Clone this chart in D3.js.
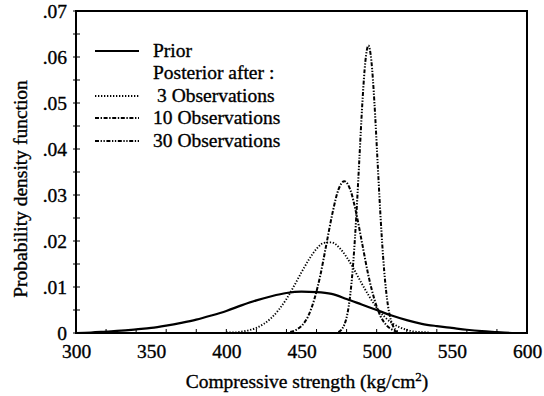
<!DOCTYPE html>
<html>
<head>
<meta charset="utf-8">
<script src="https://cdn.jsdelivr.net/npm/d3@7"></script>
<style>
  body { margin: 0; background: #fff; }
  text { font-family: "Liberation Serif", "Times New Roman", serif; fill: #000; stroke: #000; stroke-width: 0.35px; }
</style>
</head>
<body>
<div id="chart"></div>
<script>
// values
const xTicks = [300, 350, 400, 450, 500, 550, 600];
const yTicks = [0, 0.01, 0.02, 0.03, 0.04, 0.05, 0.06, 0.07];

const priorX = [300, 310, 320, 330, 340, 350, 360, 370, 380, 390, 400, 410, 420, 430, 440, 450,
                460, 470, 480, 490, 500, 510, 520, 530, 540, 550, 560, 570, 580, 590];
const priorY = [0.0000, 0.0001, 0.0003, 0.0005, 0.0008, 0.0011, 0.0016, 0.0022, 0.0029, 0.0038,
                0.0048, 0.0060, 0.0071, 0.0080, 0.0087, 0.0090, 0.0089, 0.0085, 0.0074, 0.0062,
                0.0050, 0.0038, 0.0028, 0.0020, 0.0015, 0.0011, 0.0007, 0.0004, 0.0002, 0.0000];

const obs3X = [400, 405, 410, 415, 420, 425, 430, 435, 440, 445, 450, 455, 460, 465, 470,
               475, 480, 485, 490, 495, 500, 505, 510, 515, 520, 525, 530, 535];
const obs3Y = [0.0001, 0.0001, 0.0003, 0.0006, 0.0011, 0.0020, 0.0033, 0.0051, 0.0074, 0.0102,
               0.0132, 0.0160, 0.0183, 0.0196, 0.0197, 0.0186, 0.0165, 0.0138, 0.0108, 0.0080,
               0.0055, 0.0036, 0.0022, 0.0013, 0.0007, 0.0003, 0.0002, 0.0001];

const obs10X = [442.5, 446.5, 450.5, 454.5, 458.5, 462.5, 466.5, 470.5, 474.5, 478.5,
                482.5, 486.5, 490.5, 494.5, 498.5, 502.5, 506.5, 510.5, 514.5];
const obs10Y = [0.0002, 0.0007, 0.0017, 0.0037, 0.0073, 0.0125, 0.0192, 0.0259, 0.0311, 0.0330,
                0.0311, 0.0259, 0.0192, 0.0125, 0.0073, 0.0037, 0.0017, 0.0007, 0.0002];

const obs30X = [474.5, 476.5, 478.5, 480.5, 482.5, 484.5, 486.5, 488.5, 490.5, 492.5, 494.5,
                496.5, 498.5, 500.5, 502.5, 504.5, 506.5, 508.5, 510.5, 512.5, 514.5];
const obs30Y = [0.0002, 0.0007, 0.0018, 0.0041, 0.0085, 0.0156, 0.0257, 0.0379, 0.0501, 0.0591, 0.0625,
                0.0591, 0.0501, 0.0379, 0.0257, 0.0156, 0.0085, 0.0041, 0.0018, 0.0007, 0.0002];

const seriesNames = ["Prior", "3 Observations", "10 Observations", "30 Observations"];

const config = {width: 544, height: 396, left: 76, right: 17, top: 11, bottom: 63};
const innerW = config.width - config.left - config.right;
const innerH = config.height - config.top - config.bottom;
const fontSize = "19.5px";

const svg = d3.select("#chart")
    .append("svg")
    .attr("width", config.width)
    .attr("height", config.height);

const g = svg.append("g")
    .attr("transform", `translate(${config.left},${config.top})`);

const x = d3.scaleLinear().domain([300, 600]).range([0, innerW]);
const y = d3.scaleLinear().domain([0, 0.07]).range([innerH, 0]);

// series table built from the arrays
const series = [
    {name: seriesNames[0], xs: priorX, ys: priorY, dash: null, w: 2.2},
    {name: seriesNames[1], xs: obs3X, ys: obs3Y, dash: "1.3,1.7", w: 1.9},
    {name: seriesNames[2], xs: obs10X, ys: obs10Y, dash: "4,1.6,1.4,1.6", w: 2},
    {name: seriesNames[3], xs: obs30X, ys: obs30Y, dash: "4,1.6,1.3,1.6,1.3,1.6", w: 2}
];

const line = d3.line()
    .x(d => x(d[0]))
    .y(d => y(d[1]))
    .curve(d3.curveMonotoneX);

g.selectAll(".curve")
    .data(series)
    .enter().append("path")
        .attr("class", "curve")
        .attr("fill", "none")
        .attr("stroke", "#000")
        .attr("stroke-width", d => d.w)
        .attr("stroke-dasharray", d => d.dash)
        .attr("d", d => line(d.xs.map((v, i) => [v, d.ys[i]])));

// frame
g.append("rect")
    .attr("width", innerW)
    .attr("height", innerH)
    .attr("fill", "none")
    .attr("stroke", "#000")
    .attr("stroke-width", 2);

// minor ticks
g.selectAll(".xminor")
    .data(x.ticks(12))
    .enter().append("line")
        .attr("x1", d => x(d)).attr("x2", d => x(d))
        .attr("y1", innerH).attr("y2", innerH - 4)
        .attr("stroke", "#000").attr("stroke-width", 1);

g.selectAll(".yminor")
    .data(y.ticks(14))
    .enter().append("line")
        .attr("x1", -3).attr("x2", 4)
        .attr("y1", d => y(d)).attr("y2", d => y(d))
        .attr("stroke", "#000").attr("stroke-width", 1);

// tick labels
const xAxis = g.append("g")
    .attr("transform", `translate(0,${innerH})`)
    .call(d3.axisBottom(x).tickValues(xTicks).tickSize(0).tickPadding(11).tickFormat(d3.format("d")));
xAxis.select(".domain").remove();
xAxis.selectAll("text").style("font-size", fontSize).style("font-family", "Liberation Serif");

const fmtY = d => d === 0 ? "0" : d3.format(".2f")(d).replace(/^0/, "");
const yAxis = g.append("g")
    .call(d3.axisLeft(y).tickValues(yTicks).tickSize(0).tickPadding(9).tickFormat(fmtY));
yAxis.select(".domain").remove();
yAxis.selectAll("text").style("font-size", fontSize).style("font-family", "Liberation Serif");

// axis titles
const xt = svg.append("text")
    .attr("x", 307)
    .attr("y", 388)
    .attr("text-anchor", "middle")
    .style("font-size", fontSize);
xt.append("tspan").text("Compressive strength (kg/cm");
xt.append("tspan").attr("dy", -7).style("font-size", "13px").text("2");
xt.append("tspan").attr("dy", 7).text(")");

svg.append("text")
    .attr("transform", "rotate(-90)")
    .attr("x", -189)
    .attr("y", 27)
    .attr("text-anchor", "middle")
    .style("font-size", fontSize)
    .text("Probability density function");

// legend
const legendRows = [
    {label: seriesNames[0], s: series[0], cy: 51, tx: 153},
    {label: "Posterior after :", s: null, cy: 73, tx: 153},
    {label: seriesNames[1], s: series[1], cy: 96, tx: 157},
    {label: seriesNames[2], s: series[2], cy: 118, tx: 153},
    {label: seriesNames[3], s: series[3], cy: 141, tx: 153}
];

const legend = svg.selectAll(".legend")
    .data(legendRows)
    .enter().append("g")
    .attr("class", "legend");

legend.filter(d => d.s)
    .append("line")
        .attr("x1", 95).attr("x2", 139)
        .attr("y1", d => d.cy).attr("y2", d => d.cy)
        .attr("stroke", "#000")
        .attr("stroke-width", d => d.s.w)
        .attr("stroke-dasharray", d => d.s.dash);

legend.append("text")
    .attr("x", d => d.tx)
    .attr("y", d => d.cy + 6)
    .style("font-size", fontSize)
    .text(d => d.label);
</script>
</body>
</html>
